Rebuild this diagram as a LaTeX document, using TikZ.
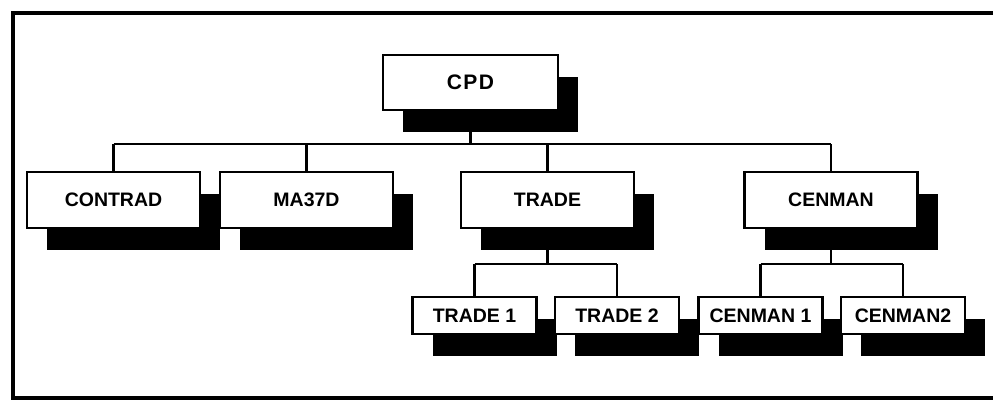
\documentclass[tikz,border=0pt]{standalone}
\usepackage{fontspec}
\setmainfont{Liberation Sans}
\usetikzlibrary{shadows}
\begin{document}
\begin{tikzpicture}[x=1pt,y=-1pt,
  boxbase/.style={draw, fill=white, line width=2.2pt, inner sep=0pt,
    drop shadow={shadow xshift=20pt, shadow yshift=-22pt, opacity=1, fill=black}},
  toplevel/.style={boxbase, minimum width=175pt, minimum height=55pt,
    font=\fontsize{21}{25}\selectfont\bfseries},
  midlevel/.style={boxbase, minimum width=173pt, minimum height=56pt,
    font=\fontsize{19.5}{23}\selectfont\bfseries},
  lowlevel/.style={boxbase, minimum width=124pt, minimum height=37pt,
    font=\fontsize{19.5}{23}\selectfont\bfseries},
  conn/.style={line width=2.2pt},
  frameline/.style={line width=3.5pt}]
\useasboundingbox (0,0) rectangle (993,401);
\draw[frameline] (998,13) -- (13,13) -- (13,398) -- (998,398);

\node[toplevel] (cpd) at (470.5,82.5) {C\kern1.5pt P\kern1.5pt D};
\node[midlevel] (contrad) at (113.5,200) {CONTRAD};
\node[midlevel] (ma37d) at (306.5,200) {MA37D};
\node[midlevel] (trade) at (547.5,200) {TRADE};
\node[midlevel] (cenman) at (831,200) {CENMAN};
\node[lowlevel] (trade1) at (474.5,315.5) {TRADE 1};
\node[lowlevel] (trade2) at (617,315.5) {TRADE 2};
\node[lowlevel] (cenman1) at (760.5,315.5) {CENMAN 1};
\node[lowlevel] (cenman2) at (903,315.5) {CENMAN2};

% top bus
\path (cpd.south) ++(0,33) coordinate (busA);
\draw[conn] (cpd.south) -- (busA);
\draw[conn] (busA -| contrad.north) -- (busA -| cenman.north);
\foreach \n in {contrad,ma37d,trade,cenman}
  \draw[conn] (busA -| \n.north) -- (\n.north);

% trade sub-bus
\path (trade.south) ++(0,35) coordinate (busB);
\draw[conn] (trade.south) -- (busB);
\draw[conn] (busB -| trade1.north) -- (busB -| trade2.north);
\foreach \n in {trade1,trade2}
  \draw[conn] (busB -| \n.north) -- (\n.north);

% cenman sub-bus
\path (cenman.south) ++(0,35) coordinate (busC);
\draw[conn] (cenman.south) -- (busC);
\draw[conn] (busC -| cenman1.north) -- (busC -| cenman2.north);
\foreach \n in {cenman1,cenman2}
  \draw[conn] (busC -| \n.north) -- (\n.north);
\end{tikzpicture}
\end{document}
